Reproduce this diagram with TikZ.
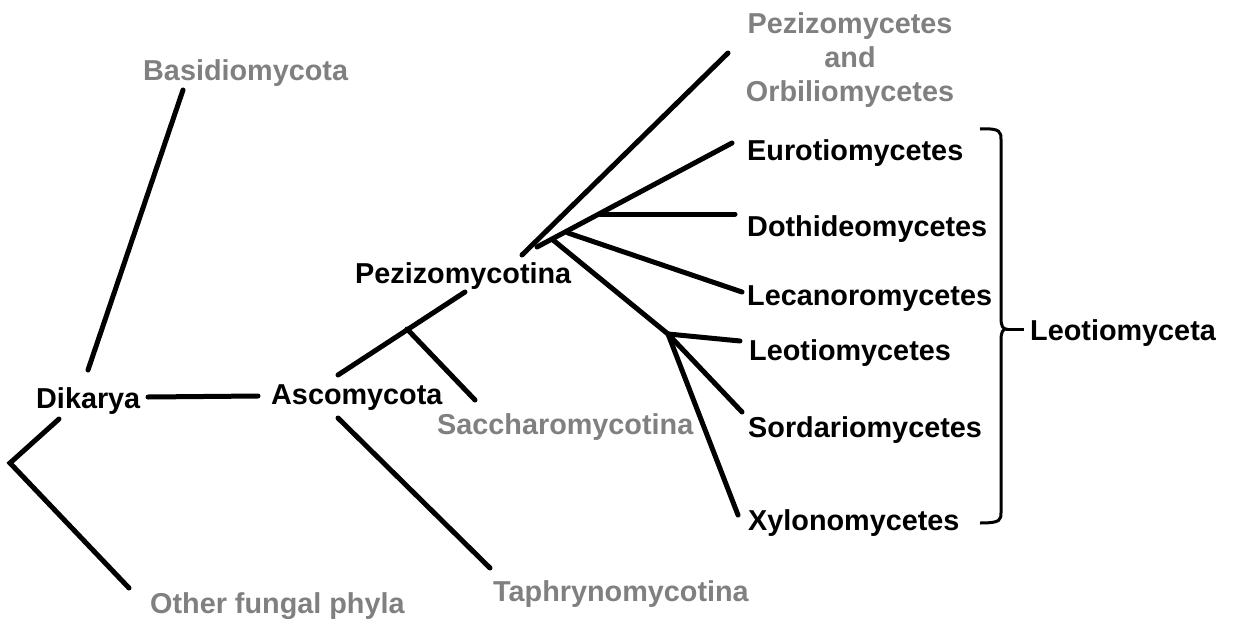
\documentclass[tikz,border=0pt]{standalone}
\usepackage{fontspec}
\setmainfont{Liberation Sans}
\definecolor{txtgray}{RGB}{128,128,128}
\tikzset{
  lbl/.style={anchor=base west, inner sep=0pt, font=\fontsize{28.8}{34}\selectfont\bfseries, text=black},
  glbl/.style={lbl, text=txtgray},
  branch/.style={line width=5pt, line cap=round, black},
  bracestyle/.style={line width=3pt, black}
}
\begin{document}
\begin{tikzpicture}[x=1pt, y=-1pt]
\useasboundingbox (0,0) rectangle (1234,621);

% labels
\node[lbl]  (dik)  at (36,408)  {Dikarya};
\node[lbl]  (asc)  at (271,404) {Ascomycota};
\node[glbl] (bas)  at (143,80)  {Basidiomycota};
\node[glbl] (oth)  at (150,613) {Other fungal phyla};
\node[lbl]  (pezt) at (355,283) {Pezizomycotina};
\node[glbl] (sac)  at (437,434) {Saccharomycotina};
\node[glbl] (tap)  at (493,601) {Taphrynomycotina};
\node[glbl, anchor=north, align=center, font=\fontsize{28.8}{34}\selectfont\bfseries] (pez) at (850,12) {Pezizomycetes\\and\\Orbiliomycetes};
\node[lbl]  (eur)  at (747,160) {Eurotiomycetes};
\node[lbl]  (dot)  at (747,236) {Dothideomycetes};
\node[lbl]  (lec)  at (747,305) {Lecanoromycetes};
\node[lbl]  (leo)  at (749,360) {Leotiomycetes};
\node[lbl]  (sor)  at (748,437) {Sordariomycetes};
\node[lbl]  (xyl)  at (748,530) {Xylonomycetes};
\node[lbl]  (leota) at (1030,340) {Leotiomyceta};

% coordinates
\coordinate (root) at (10,463);
\coordinate (rootU) at (59,419);
\coordinate (rootD) at (129,588);
\coordinate (basB) at (88,370);
\coordinate (basT) at (183,90);
\coordinate (dikR) at (148,397);
\coordinate (ascL) at (258,396);
\coordinate (ascU) at (338,375);
\coordinate (ascD) at (338,418);
\coordinate (pezJ) at (407,329);
\coordinate (pezB) at (465,292);
\coordinate (sacE) at (475,400);
\coordinate (tapE) at (490,568);
\coordinate (pzn) at (522,255);
\coordinate (pezE) at (728,53);
\coordinate (eurS) at (537,247);
\coordinate (eurE) at (732,143);
\coordinate (dotJ) at (600,214);
\coordinate (dotE) at (735,214);
\coordinate (lecS) at (568,233);
\coordinate (lecE) at (742,292);
\coordinate (leoS) at (553,240);
\coordinate (leoJ) at (668,334);
\coordinate (leoE) at (740,341);
\coordinate (sorE) at (742,412);
\coordinate (xylE) at (738,515);

% branches
\draw[branch] (rootU) -- (root) -- (rootD);
\draw[branch] (basB) -- (basT);
\draw[branch] (dikR) -- (ascL);
\draw[branch] (ascU) -- (pezB);
\draw[branch] (pezJ) -- (sacE);
\draw[branch] (ascD) -- (tapE);
\draw[branch] (pzn) -- (pezE);
\draw[branch] (eurS) -- (eurE);
\draw[branch] (dotJ) -- (dotE);
\draw[branch] (lecS) -- (lecE);
\draw[branch] (leoS) -- (leoJ);
\draw[branch] (leoJ) -- (leoE);
\draw[branch] (leoJ) -- (sorE);
\draw[branch] (leoJ) -- (xylE);

% brace
\coordinate (brT) at (980,129);
\coordinate (brB) at (980,523);
\coordinate (brTip) at (1006,329);
\coordinate (brE) at (1024,329);
\draw[bracestyle] (brT) .. controls (1001,128) and (1001,132) .. (1001,140)
  -- (1001,318) .. controls (1001,326) and (1003,329) .. (brTip)
  .. controls (1003,329) and (1001,332) .. (1001,340)
  -- (1001,512) .. controls (1001,520) and (1001,523) .. (brB);
\draw[bracestyle] (brTip) -- (brE);
\end{tikzpicture}
\end{document}
